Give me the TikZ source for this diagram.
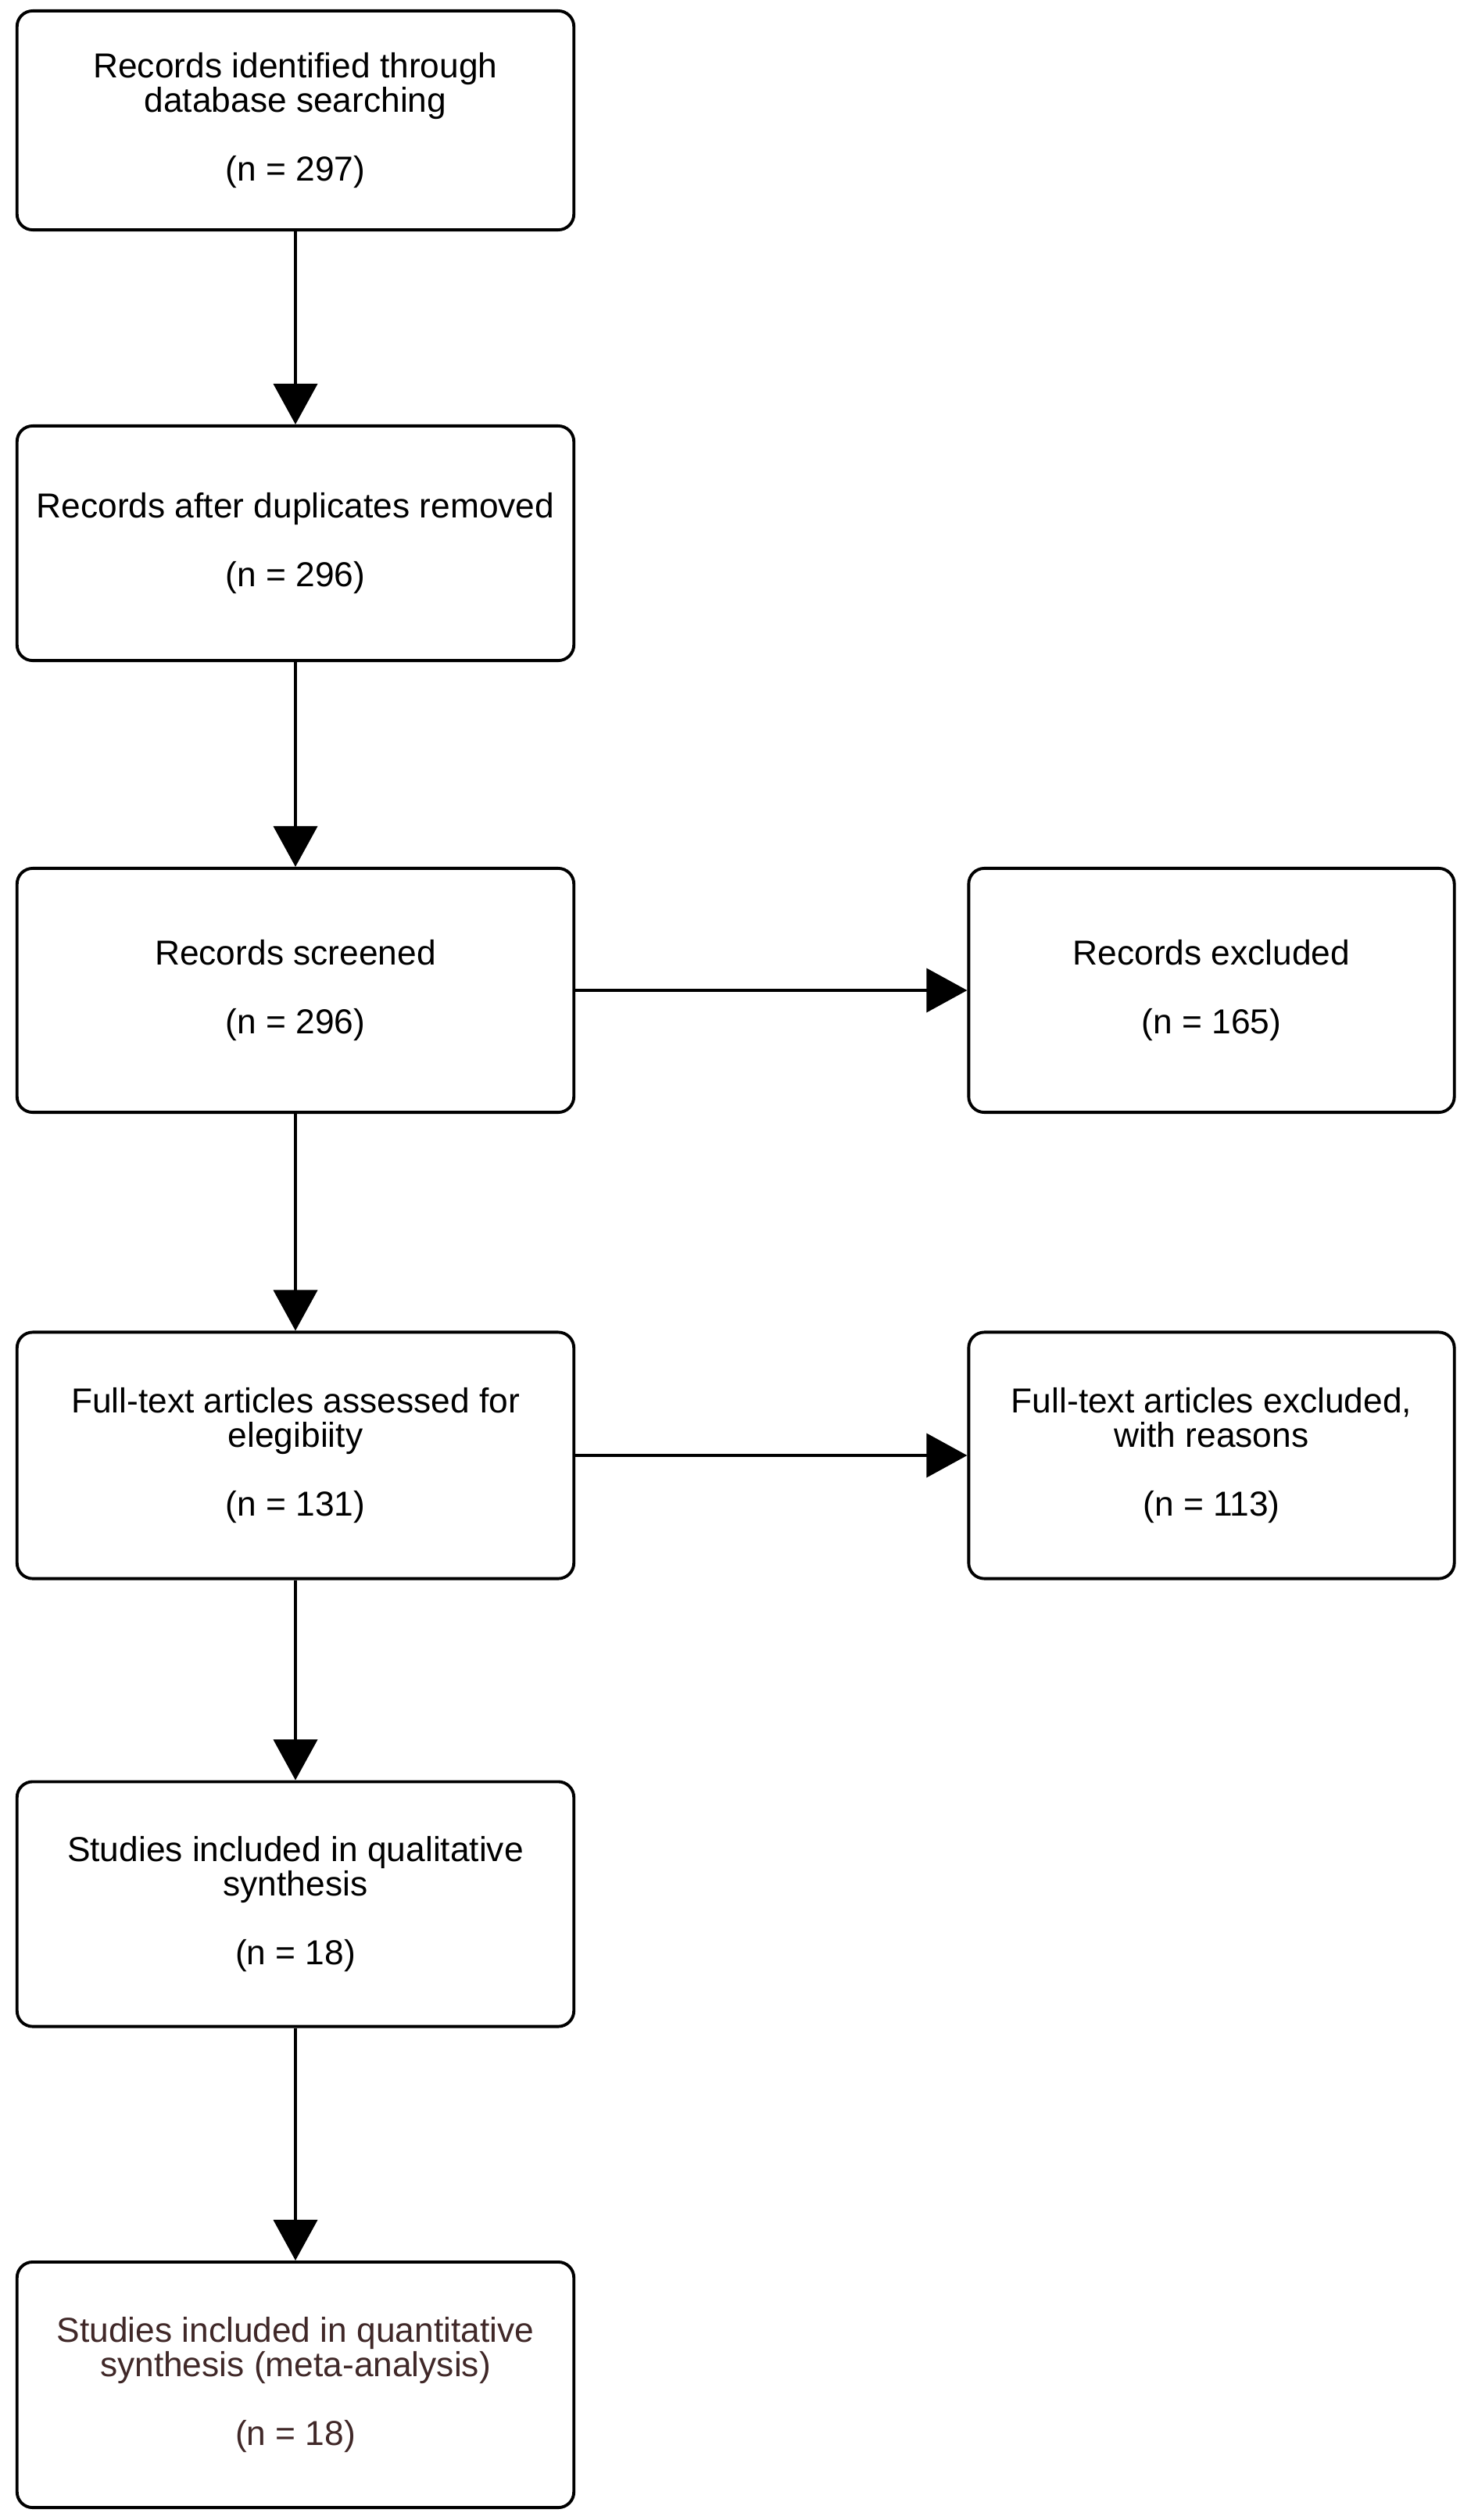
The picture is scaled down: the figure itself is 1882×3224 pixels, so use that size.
\documentclass[tikz,border=0pt]{standalone}
\usepackage{fontspec}
\setmainfont{Liberation Sans}
\usetikzlibrary{arrows.meta}
\definecolor{metabrown}{RGB}{64,40,40}
\begin{document}
\begin{tikzpicture}[x=0.01cm, y=-0.01cm,
        caja/.style={draw, line width=1.1pt, rounded corners=0.2cm, align=center,
            minimum width=7.12cm, inner sep=0pt,
            font=\fontsize{12.6pt}{12.5pt}\selectfont},
        flecha/.style={line width=1.1pt, -{Triangle[length=0.52cm, width=0.56cm]}}] %Diagrama de flujo de la revision
        \useasboundingbox (0,0) rectangle (1882,3224);

        \node[caja, minimum height=2.80cm] (ident) at (378,154) {Records identified through\\database searching\\[12.5pt](n = 297)};
        \node[caja, minimum height=3.00cm] (dup) at (378,695) {Records after duplicates removed\\[12.5pt](n = 296)};
        \node[caja, minimum height=3.12cm] (scr) at (378,1267) {Records screened\\[12.5pt](n = 296)};
        \node[caja, minimum height=3.12cm, minimum width=6.21cm] (exc) at (1550,1267) {Records excluded\\[12.5pt](n = 165)};
        \node[caja, minimum height=3.15cm] (elig) at (378,1862) {Full-text articles assessed for\\elegibiity\\[12.5pt](n = 131)};
        \node[caja, minimum height=3.15cm, minimum width=6.21cm] (ftexc) at (1550,1862) {Full-text articles excluded,\\with reasons\\[12.5pt](n = 113)};
        \node[caja, minimum height=3.13cm] (qual) at (378,2436) {Studies included in qualitative\\synthesis\\[12.5pt](n = 18)};
        \node[caja, minimum height=3.14cm, text=metabrown] (quan) at (378,3051) {Studies included in quantitative\\synthesis (meta-analysis)\\[12.5pt](n = 18)};

        \draw[flecha] (ident) -- (dup);
        \draw[flecha] (dup) -- (scr);
        \draw[flecha] (scr) -- (exc);
        \draw[flecha] (scr) -- (elig);
        \draw[flecha] (elig) -- (ftexc);
        \draw[flecha] (elig) -- (qual);
        \draw[flecha] (qual) -- (quan);
    \end{tikzpicture}
\end{document}
